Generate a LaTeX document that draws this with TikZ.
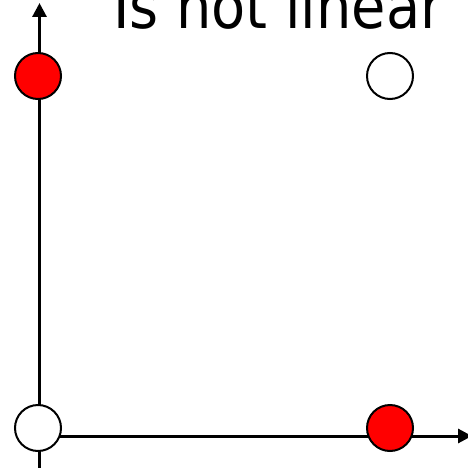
\documentclass[tikz,border=0pt]{standalone}
\usepackage{fontspec}
\newfontfamily\titlefont{DejaVu Sans Condensed}
\usetikzlibrary{arrows.meta}
\begin{document}
\begin{tikzpicture}[x=1pt,y=-1pt,
  axis/.style={line width=3pt,-{Triangle[length=14pt,width=14pt]}},
  dot/.style={circle,draw=black,line width=2pt,minimum size=46pt,inner sep=0pt},
  reddot/.style={dot,fill=red},
  whitedot/.style={dot,fill=white}]
\useasboundingbox (0,0) rectangle (467,468);
\coordinate (o) at (39.5,470);
\coordinate (ytop) at (39.5,3);
\coordinate (xl) at (39.5,436);
\coordinate (xr) at (472,436);
\draw[axis] (o) -- (ytop);
\draw[axis] (xl) -- (xr);
\node[reddot] (a) at (38,76) {};
\node[whitedot] (b) at (390,76) {};
\node[whitedot] (c) at (38,428) {};
\node[reddot] (d) at (390,428) {};
\node[anchor=base west,inner sep=0pt,font=\titlefont\fontsize{62}{62}\selectfont] (t) at (113,29) {Is not linear};
\end{tikzpicture}
\end{document}
